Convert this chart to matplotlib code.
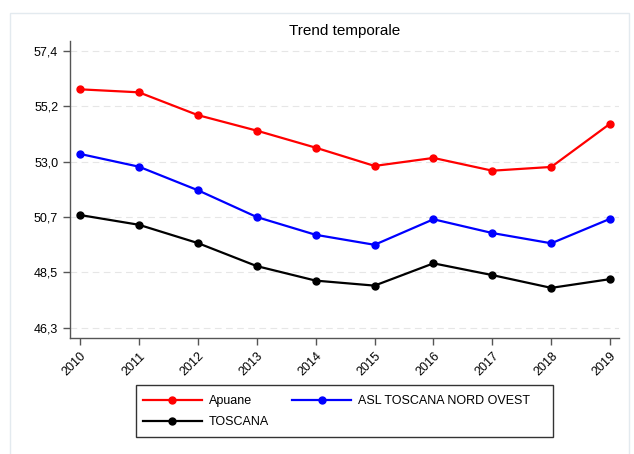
import matplotlib.pyplot as plt
from matplotlib.patches import Rectangle

plt.rcParams['font.family'] = ['Liberation Sans', 'DejaVu Sans']

# ==================== dati ====================
anni = [2010, 2011, 2012, 2013, 2014, 2015, 2016, 2017, 2018, 2019]
apuane = [55.84, 55.72, 54.81, 54.19, 53.51, 52.78, 53.10, 52.59, 52.74, 54.47]
asl_nord_ovest = [53.26, 52.75, 51.81, 50.74, 50.03, 49.63, 50.65, 50.10, 49.69, 50.67]
toscana = [50.82, 50.43, 49.70, 48.78, 48.20, 48.00, 48.89, 48.42, 47.91, 48.26]

y_ticks = [46.32, 48.53, 50.74, 52.95, 55.16, 57.37]
y_labels = ['46,3', '48,5', '50,7', '53,0', '55,2', '57,4']

# ==================== grafico ====================
fig = plt.figure(figsize=(6.34, 4.54), dpi=100)
fig.patch.set_facecolor('white')
W, H = 634, 454

# cornice esterna chiara
fig.patches.append(Rectangle((10 / W, -0.01), 619 / W, 1 - 13 / H + 0.01,
                             transform=fig.transFigure, fill=False,
                             edgecolor='#e3eaef', linewidth=1.0))

ax = fig.add_axes([70 / W, (H - 337.7) / H, (619 - 70) / W, (337.7 - 41) / H])

serie = [
    (apuane, '#ff0000', 'Apuane'),
    (asl_nord_ovest, '#0000ff', 'ASL TOSCANA NORD OVEST'),
    (toscana, '#000000', 'TOSCANA'),
]
handles = []
for valori, colore, nome in serie:
    h, = ax.plot(anni, valori, color=colore, linewidth=1.6, marker='o',
                 markersize=5, label=nome)
    handles.append(h)

ax.set_ylim(45.92, 57.77)
ax.set_xlim(2009.83, 2019.15)
ax.set_yticks(y_ticks)
ax.set_yticklabels(y_labels)
ax.set_xticks(anni)
ax.set_xticklabels([str(a) for a in anni], rotation=45, ha='right',
                   rotation_mode='anchor')

for y in y_ticks:
    ax.axhline(y, color='#e6e6e6', linewidth=0.8, linestyle=(0, (6, 4)), zorder=0)

for s in ['top', 'right']:
    ax.spines[s].set_visible(False)
for s in ['left', 'bottom']:
    ax.spines[s].set_color('#555555')
    ax.spines[s].set_linewidth(1.0)
ax.tick_params(axis='both', labelsize=9, colors='#555555', labelcolor='black',
               length=5, width=1.0, direction='out')
ax.tick_params(axis='x', pad=4)

ax.set_title('Trend temporale', fontsize=11, pad=4)

# legenda (ordine per righe: Apuane, ASL / TOSCANA)
fig.patches.append(Rectangle((136 / W, (H - 437) / H), (553 - 136) / W, 52 / H,
                             transform=fig.transFigure, fill=False,
                             edgecolor='#333333', linewidth=1.0))
leg = fig.legend(handles=[handles[0], handles[2], handles[1]], ncol=2,
                 loc='upper left', bbox_to_anchor=(143 / W, (H - 395) / H),
                 frameon=False, fontsize=9, handlelength=4.7, handletextpad=0.56,
                 columnspacing=1.85, labelspacing=0.75, borderpad=0,
                 borderaxespad=0)

fig.savefig('out.png', dpi=100)
